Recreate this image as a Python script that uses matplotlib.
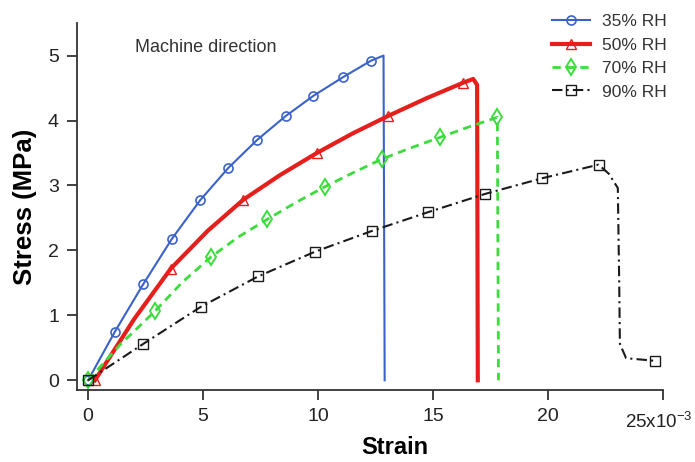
import matplotlib
matplotlib.use("Agg")
import matplotlib.pyplot as plt

plt.rcParams['font.family'] = ['Liberation Sans', 'DejaVu Sans']

# Strain (x10^-3) and stress (MPa) for each relative humidity
strain_35 = [0, 1.17, 2.4, 3.65, 4.87, 6.1, 7.35, 8.6, 9.8, 11.1, 12.3, 12.85, 12.9]
stress_35 = [0, 0.75, 1.48, 2.18, 2.77, 3.27, 3.70, 4.07, 4.38, 4.67, 4.92, 5.0, 0.0]

strain_50 = [0.3, 2.0, 3.6, 5.2, 6.75, 8.35, 9.95, 11.5, 13.05, 14.7, 16.3,
             16.75, 16.92, 16.95]
stress_50 = [0, 0.94, 1.72, 2.30, 2.78, 3.16, 3.50, 3.80, 4.07, 4.34, 4.58,
             4.64, 4.55, 0.0]

strain_70 = [0, 1.4, 2.9, 4.1, 5.35, 6.55, 7.8, 9.05, 10.3, 11.55, 12.8,
             14.05, 15.3, 16.55, 17.8, 17.85]
stress_70 = [0, 0.55, 1.06, 1.51, 1.90, 2.21, 2.48, 2.74, 2.98, 3.20, 3.41,
             3.58, 3.74, 3.90, 4.05, 0.0]

strain_90 = [0, 2.4, 4.9, 7.4, 9.87, 12.35, 14.8, 17.27, 19.74, 22.2,
             22.65, 23.04, 23.1, 23.13, 23.4, 24.65]
stress_90 = [0, 0.56, 1.13, 1.60, 1.98, 2.30, 2.59, 2.87, 3.11, 3.32,
             3.18, 2.96, 1.5, 0.56, 0.34, 0.30]

labels = ['35% RH', '50% RH', '70% RH', '90% RH']
x_ticks = [0, 5, 10, 15, 20, 25]
x_tick_labels = ['0', '5', '10', '15', '20', '']
x_unit_label = r'25x10$^{\mathregular{-3}}$'
y_ticks = [0, 1, 2, 3, 4, 5]

fig = plt.figure(figsize=(6.95, 4.62), dpi=100)
ax = fig.add_axes([0.1108, 0.1558, 0.843, 0.7942])

ax.plot(strain_35, stress_35, color='#3a62c8', lw=1.5, marker='o', ms=6.5,
        mfc='none', mec='#3a62c8', mew=1.2, markevery=list(range(11)),
        label=labels[0])
ax.plot(strain_50, stress_50, color='#e5201c', lw=3, marker='^', ms=7.5,
        mfc='none', mec='#e5201c', mew=1.0, markevery=[0, 2, 4, 6, 8, 10],
        label=labels[1], solid_joinstyle='round')
ax.plot(strain_70, stress_70, color='#3ddc3d', lw=2, ls=(0, (3, 2)),
        marker='d', ms=8, mfc='none', mec='#3ddc3d', mew=1.4,
        markevery=list(range(0, 15, 2)), label=labels[2])
ax.plot(strain_90, stress_90, color='#1a1a1a', lw=1.5, ls=(0, (5, 2, 1, 2)),
        marker='s', ms=7, mfc='none', mec='#1a1a1a', mew=1.0,
        markevery=list(range(10)) + [15], label=labels[3])

ax.set_xlim(-0.48, 25.0)
ax.set_ylim(-0.15, 5.5)
ax.set_xticks(x_ticks)
ax.set_xticklabels(x_tick_labels)
ax.set_yticks(y_ticks)

for side in ('top', 'right'):
    ax.spines[side].set_visible(False)
for side in ('left', 'bottom'):
    ax.spines[side].set_color('#333333')
    ax.spines[side].set_linewidth(1.3)
ax.tick_params(direction='out', length=7, width=1.3, color='#333333',
               labelsize=14, pad=6, labelcolor='#222222')

# last x tick carries the scale factor; right-aligned so it stays on the canvas
fig.text(0.997, 1 - 411 / 462, x_unit_label, ha='right', va='top',
         fontsize=13.5, color='#222222')

ax.set_xlabel('Strain', fontsize=17, fontweight='bold')
ax.xaxis.set_label_coords(0.543, -0.125)
ax.set_ylabel('Stress (MPa)', fontsize=18.5, fontweight='bold', labelpad=8)

ax.text(2.04, 5.12, 'Machine direction', fontsize=13, color='#333333',
        va='center')

fig.legend(loc='upper left', bbox_to_anchor=(545 / 695, 1 - 7 / 462),
           frameon=False, fontsize=12.5, handlelength=2.2, handletextpad=0.7,
           labelspacing=0.48, borderaxespad=0, labelcolor='#333333')

fig.savefig('out.png', dpi=100)
